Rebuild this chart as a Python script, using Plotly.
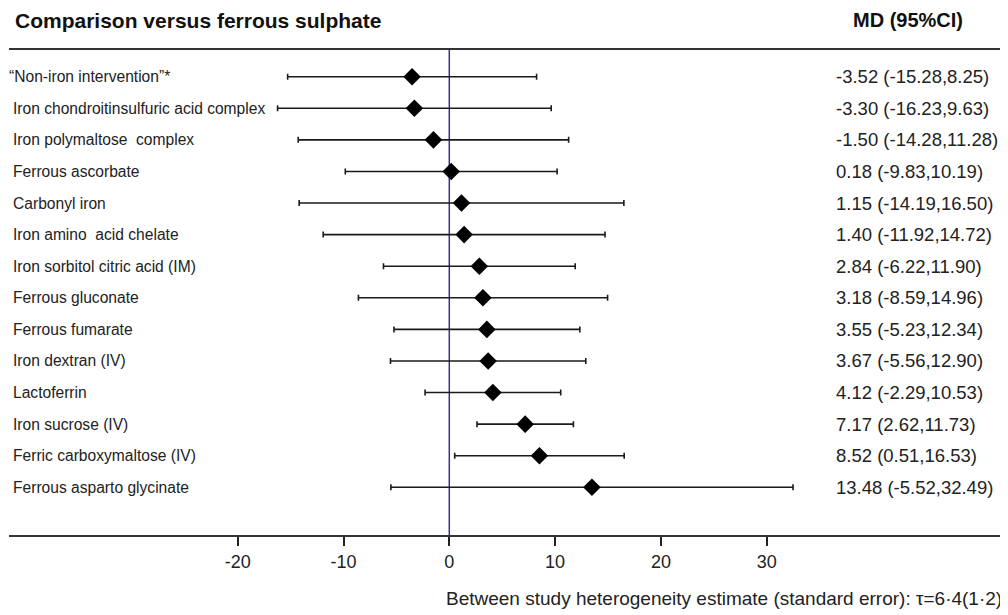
import plotly.graph_objects as go

labels = [
    "\u201cNon-iron intervention\u201d*",
    "Iron chondroitinsulfuric acid complex",
    "Iron polymaltose  complex",
    "Ferrous ascorbate",
    "Carbonyl iron",
    "Iron amino  acid chelate",
    "Iron sorbitol citric acid (IM)",
    "Ferrous gluconate",
    "Ferrous fumarate",
    "Iron dextran (IV)",
    "Lactoferrin",
    "Iron sucrose (IV)",
    "Ferric carboxymaltose (IV)",
    "Ferrous asparto glycinate",
]
md = [-3.52, -3.30, -1.50, 0.18, 1.15, 1.40, 2.84, 3.18, 3.55, 3.67, 4.12, 7.17, 8.52, 13.48]
lower = [-15.28, -16.23, -14.28, -9.83, -14.19, -11.92, -6.22, -8.59, -5.23, -5.56, -2.29, 2.62, 0.51, -5.52]
upper = [8.25, 9.63, 11.28, 10.19, 16.50, 14.72, 11.90, 14.96, 12.34, 12.90, 10.53, 11.73, 16.53, 32.49]
tick_vals = [-20, -10, 0, 10, 20, 30]

rows = list(range(1, len(labels) + 1))

# the page body adds an 8px margin; lay the figure out in page pixels
OFF = 8
FW, FH = 1008 - OFF, 615 - OFF
L, R = 9 - OFF, 3
T, B = 50 - OFF, FH - (535 - OFF)
W = FW - L - R
H = FH - T - B
ZERO, SCALE = 449.3, 10.58


def px(xpage):
    return (xpage - OFF - L) / W


def py(ypage):
    return (535 - ypage) / H


fig = go.Figure()
fig.add_trace(go.Scatter(
    x=md, y=rows, mode="markers",
    marker=dict(symbol="diamond", size=13.5, color="black"),
    error_x=dict(type="data", symmetric=False,
                 array=[u - m for u, m in zip(upper, md)],
                 arrayminus=[m - l for m, l in zip(md, lower)],
                 color="#1a1a1a", thickness=1.6, width=3),
    showlegend=False, hoverinfo="skip",
))

fig.add_shape(type="line", xref="x", yref="paper", x0=0, x1=0, y0=0, y1=1,
              line=dict(color="#34348f", width=1.5), layer="below")

FONT = "Liberation Sans, Arial"
ann = []
for r, lab, m, lo, up in zip(rows, labels, md, lower, upper):
    ann.append(dict(x=px(7 if r == 1 else 11), xref="paper", y=r, yref="y", text=lab,
                    xanchor="left", yanchor="middle", showarrow=False,
                    font=dict(family=FONT, size=15.6, color="#222222")))
    ann.append(dict(x=px(834), xref="paper", y=r, yref="y",
                    text=f"{m:.2f} ({lo:.2f},{up:.2f})",
                    xanchor="left", yanchor="middle", showarrow=False,
                    font=dict(family=FONT, size=18.5, color="#222222")))

ann.append(dict(x=px(13), xref="paper", y=py(20), yref="paper",
                text="<b>Comparison versus ferrous sulphate</b>",
                xanchor="left", yanchor="middle", showarrow=False,
                font=dict(family=FONT, size=21, color="#111111")))
ann.append(dict(x=px(851), xref="paper", y=py(20), yref="paper",
                text="<b>MD (95%CI)</b>",
                xanchor="left", yanchor="middle", showarrow=False,
                font=dict(family=FONT, size=20, color="#111111")))
ann.append(dict(x=px(1004), xref="paper", y=py(598), yref="paper",
                text="Between study heterogeneity estimate (standard error): \u03c4=6\u00b74(1\u00b72)",
                xanchor="right", yanchor="middle", showarrow=False,
                font=dict(family=FONT, size=19, color="#222222")))

fig.update_layout(
    width=FW, height=FH,
    margin=dict(l=L, r=R, t=T, b=B, pad=0),
    paper_bgcolor="white", plot_bgcolor="white",
    annotations=ann,
    xaxis=dict(range=[(L + OFF - ZERO) / SCALE, (FW - R + OFF - ZERO) / SCALE],
               tickvals=tick_vals, ticktext=[str(v) for v in tick_vals],
               ticks="outside", ticklen=9, tickwidth=1.5, tickcolor="#222222",
               showline=True, linewidth=2, linecolor="#333333", mirror=True,
               showgrid=False, zeroline=False,
               tickfont=dict(family=FONT, size=18, color="#222222")),
    yaxis=dict(range=[15.51, 0.155], visible=False, showgrid=False, zeroline=False),
)

fig.write_html("out.html")
